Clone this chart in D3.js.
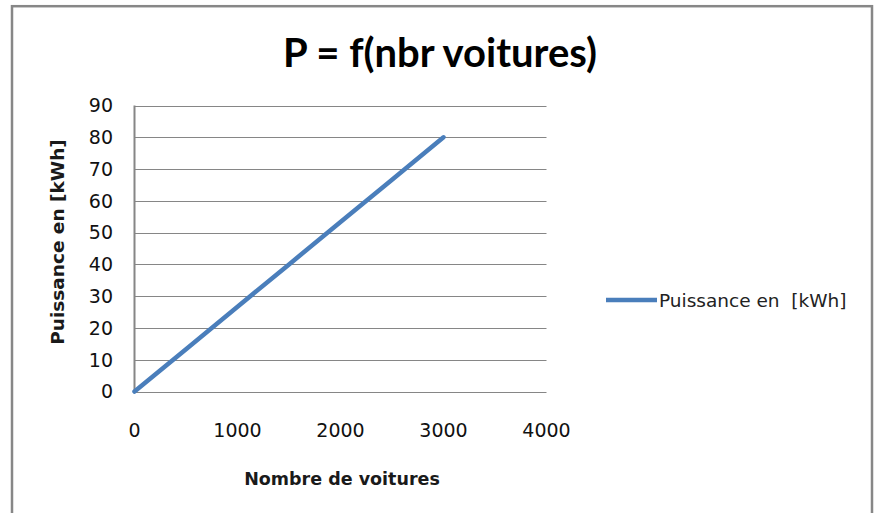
<!DOCTYPE html>
<html><head><meta charset="utf-8">
<script src="https://cdn.jsdelivr.net/npm/d3@7"></script>
<style>body{margin:0;background:#fff}svg{display:block}</style>
</head><body>
<script>
const title = "P = f(nbr voitures)";
const xLabel = "Nombre de voitures";
const yLabel = "Puissance en [kWh]";
const seriesName = "Puissance en  [kWh]";
const nbrVoitures = [0, 500, 1000, 1500, 2000, 2500, 3000];
const puissance = [0, 13.33, 26.67, 40, 53.33, 66.67, 80];
const xTicks = [0, 1000, 2000, 3000, 4000];
const yTicks = [0, 10, 20, 30, 40, 50, 60, 70, 80, 90];

const W = 880, H = 513;
const svg = d3.select("body").append("svg").attr("width", W).attr("height", H);
const font = "'DejaVu Sans', sans-serif";
const titleFont = "Lato, 'Open Sans', sans-serif";

svg.append("rect").attr("x", 12).attr("y", 6.2).attr("width", 860).attr("height", 520)
  .attr("fill", "#fff").attr("stroke", "#878787").attr("stroke-width", 2.5);

const x = d3.scaleLinear().domain([0, 4000]).range([134.5, 546.5]);
const y = d3.scaleLinear().domain([0, 90]).range([391.5, 105.5]);

// gridlines
svg.append("g").selectAll("line").data(yTicks).join("line")
  .attr("x1", x(0)).attr("x2", x(4000))
  .attr("y1", d => Math.round(y(d)) + 0.5).attr("y2", d => Math.round(y(d)) + 0.5)
  .attr("stroke", "#868686").attr("stroke-width", 1);

// left axis line
svg.append("line").attr("x1", x(0)).attr("x2", x(0)).attr("y1", y(90)).attr("y2", y(0) + 0.5)
  .attr("stroke", "#868686").attr("stroke-width", 2);

// y tick labels
svg.append("g").selectAll("text").data(yTicks).join("text")
  .attr("x", 113).attr("y", d => y(d)).attr("dy", "0.36em")
  .attr("text-anchor", "end").attr("font-family", font).attr("font-size", 19).attr("fill", "#111")
  .text(d => d);

// x tick labels
svg.append("g").selectAll("text").data(xTicks).join("text")
  .attr("x", d => x(d)).attr("y", 437)
  .attr("text-anchor", "middle").attr("font-family", font).attr("font-size", 19).attr("fill", "#111")
  .text(d => d);

// line
const line = d3.line().x((d, i) => x(nbrVoitures[i])).y(d => y(d));
svg.append("path").datum(puissance).attr("d", line)
  .attr("fill", "none").attr("stroke", "#4A7EBB").attr("stroke-width", 4.5).attr("stroke-linecap", "round");

// title
svg.append("text").attr("x", 440).attr("y", 67).attr("text-anchor", "middle")
  .attr("font-family", titleFont).attr("font-weight", "bold").attr("font-size", 40).attr("fill", "#000")
  .text(title);

// axis titles
svg.append("text").attr("x", 342).attr("y", 485).attr("text-anchor", "middle")
  .attr("font-family", font).attr("font-weight", "bold").attr("font-size", 17.5).attr("fill", "#1a1a1a")
  .text(xLabel);
svg.append("text").attr("transform", "translate(64,242) rotate(-90)").attr("text-anchor", "middle")
  .attr("font-family", font).attr("font-weight", "bold").attr("font-size", 18.5).attr("fill", "#1a1a1a")
  .text(yLabel);

// legend
svg.append("line").attr("x1", 606).attr("x2", 657).attr("y1", 300).attr("y2", 300)
  .attr("stroke", "#4A7EBB").attr("stroke-width", 4.5);
svg.append("text").attr("x", 659).attr("y", 300).attr("dy", "0.36em")
  .attr("font-family", font).attr("font-size", 18.5).attr("fill", "#222")
  .style("white-space", "pre")
  .text(seriesName);
</script>
</body></html>
